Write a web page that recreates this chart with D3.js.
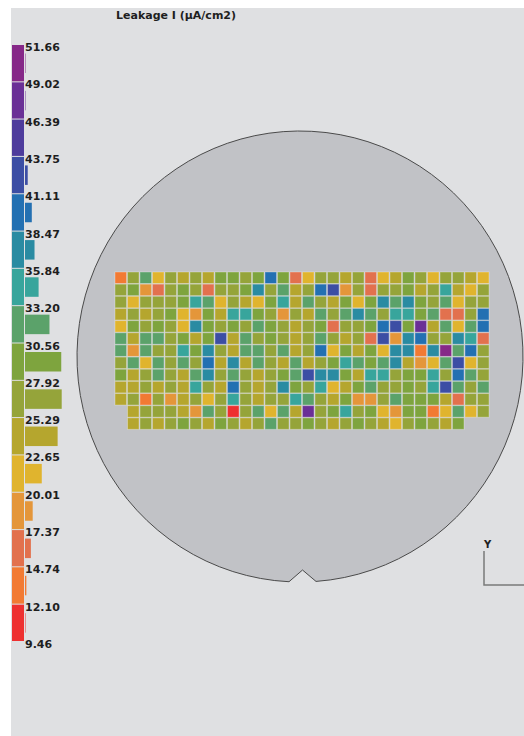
<!DOCTYPE html>
<html>
<head>
<meta charset="utf-8">
<script src="https://cdn.jsdelivr.net/npm/d3@7"></script>
<style>
  html, body { margin: 0; padding: 0; background: #fff; }
  svg { display: block; }
</style>
</head>
<body>
<svg width="524" height="736"></svg>
<script>
// bin edges of the leakage legend (µA/cm2), low to high
const binEdges = [9.46, 12.10, 14.74, 17.37, 20.01, 22.65, 25.29, 27.92, 30.56,
                  33.20, 35.84, 38.47, 41.11, 43.75, 46.39, 49.02, 51.66];
const binColors = ["#ee3030", "#f27a33", "#e2714e", "#e4963a", "#e0b42e", "#b5a62e",
                   "#95a43a", "#7ea43e", "#5ba26a", "#38a59c", "#2a8ba2", "#2370b2",
                   "#3c4ea4", "#4e3c9c", "#6a3096", "#862888"];
// die count per bin (histogram bars next to the legend)
const binCounts = [1, 3, 13, 17, 37, 72, 81, 80, 54, 30, 21, 15, 6, 0, 1, 1];
// wafer map: one string per die row, one hex char per column = bin index ('.' = no die)
const dieRows = [
  "1684656577" + "67b7246656" + "2457646654",
  "6732676266" + "7a6856bc36" + "2667569546",
  "6466679846" + "5479586574" + "7a8a768466",
  "5656743759" + "976365868a" + "869978226b",
  "476764a767" + "6876567266" + "7bc7e5848b",
  "85886757c5" + "8676568656" + "2c3ab66a92",
  "8386697a65" + "886856b475" + "74aa1af8b6",
  "6848686b5a" + "5865856798" + "78a5348c46",
  "7568658a68" + "65678caa75" + "9967796b86",
  "556565965b" + "656a769457" + "866769c868",
  "5616356469" + "6566986573" + "3687775266",
  ".566653860" + "68485e6796" + "7437714846",
  ".565676576" + "5686676567" + "65467657.."
];

const svg = d3.select("svg");
const width = +svg.attr("width");
const height = +svg.attr("height");
const font = "'DejaVu Sans', Verdana, sans-serif";

const color = d3.scaleThreshold()
  .domain(binEdges.slice(1, -1))
  .range(binColors);

// dies: value = middle of its bin
const dies = [];
dieRows.forEach((row, r) => {
  row.split("").forEach((ch, c) => {
    if (ch === ".") return;
    const b = parseInt(ch, 16);
    dies.push({ row: r, col: c, value: (binEdges[b] + binEdges[b + 1]) / 2 });
  });
});

// background panel
svg.append("rect")
  .attr("x", 11).attr("y", 8)
  .attr("width", width - 11).attr("height", height - 8)
  .attr("fill", "#dfe0e2");

// wafer outline with notch
const cx = 300, cy = 356.5, rx = 223, ry = 225.5;
const notchL = 289, notchR = 316, notchTop = 570;
const yAt = (px) => cy + ry * Math.sqrt(1 - ((px - cx) / rx) ** 2);
svg.append("path")
  .attr("d", `M${notchR},${yAt(notchR)} A${rx},${ry} 0 1 0 ${notchL},${yAt(notchL)}
              L${(notchL + notchR) / 2},${notchTop} Z`)
  .attr("fill", "#c1c2c6")
  .attr("stroke", "#4a4a4a")
  .attr("stroke-width", 1);

// die map
const x = d3.scaleBand().domain(d3.range(dieRows[0].length)).range([115, 490]);
const y = d3.scaleBand().domain(d3.range(dieRows.length)).range([272, 430]);
const dieSize = 11.5;

svg.append("g")
  .selectAll("rect")
  .data(dies)
  .join("rect")
    .attr("x", d => x(d.col))
    .attr("y", d => y(d.row))
    .attr("width", dieSize)
    .attr("height", dieSize)
    .attr("fill", d => color(d.value))
    .attr("stroke", "#ffffff")
    .attr("stroke-opacity", 0.3)
    .attr("stroke-width", 1);

// legend
const ly = d3.scaleLinear()
  .domain([binEdges[0], binEdges[binEdges.length - 1]])
  .range([642, 45]);
const lx = d3.scaleLinear()
  .domain([0, d3.max(binCounts)])
  .range([0, 36.7]);

const bins = binColors.map((c, i) => ({
  lo: binEdges[i], hi: binEdges[i + 1], color: c, count: binCounts[i]
}));

const legend = svg.append("g");
legend.selectAll("rect.block")
  .data(bins)
  .join("rect")
    .attr("class", "block")
    .attr("x", 12)
    .attr("y", d => ly(d.hi))
    .attr("width", 12)
    .attr("height", d => ly(d.lo) - ly(d.hi) - 1)
    .attr("fill", d => d.color);

legend.selectAll("rect.bar")
  .data(bins)
  .join("rect")
    .attr("class", "bar")
    .attr("x", 25)
    .attr("y", d => ly(d.hi) + 8.5)
    .attr("width", d => lx(d.count))
    .attr("height", 19.5)
    .attr("fill", d => d.color);

legend.selectAll("text")
  .data(binEdges)
  .join("text")
    .attr("x", 25)
    .attr("y", d => ly(d) + 6)
    .attr("font-family", font)
    .attr("font-weight", "bold")
    .attr("font-size", 11)
    .attr("fill", "#1e1e1e")
    .text(d => d3.format(".2f")(d));

// title
svg.append("text")
  .attr("x", 116).attr("y", 19)
  .attr("font-family", font)
  .attr("font-weight", "bold")
  .attr("font-size", 11)
  .attr("fill", "#1e1e1e")
  .text("Leakage I (µA/cm2)");

// Y direction marker
svg.append("path")
  .attr("d", "M484,551 L484,585 L524,585")
  .attr("fill", "none")
  .attr("stroke", "#7a7a7a")
  .attr("stroke-width", 1.5);
svg.append("text")
  .attr("x", 484).attr("y", 548)
  .attr("font-family", font)
  .attr("font-weight", "bold")
  .attr("font-size", 10)
  .attr("fill", "#1e1e1e")
  .text("Y");
</script>
</body>
</html>
